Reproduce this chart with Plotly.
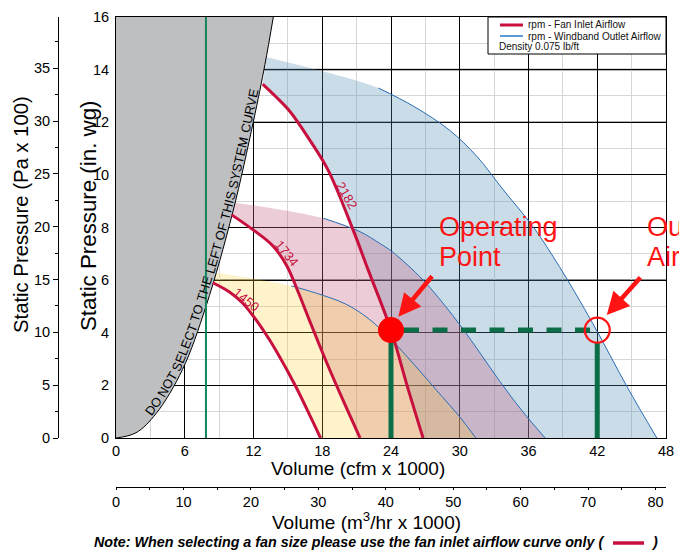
import numpy as np
import plotly.graph_objects as go

# ---------------- fan data: volume in cfm x 1000, static pressure in in. wg ----------------
system_x = [0, 1.75, 3.5, 5.8, 7.85, 10.2, 12.0, 13.0, 13.73]
system_y = [0, 0.2, 0.93, 2.6, 5.0, 8.6, 12.05, 14.2, 16.0]

fan_rpm = [1450, 1734, 2182]

inlet_1450_x = [8.45, 9.9, 11.0, 11.9, 13.0, 14.0, 15.7, 17.2, 17.85]
inlet_1450_y = [5.9, 5.55, 5.15, 4.68, 4.0, 3.3, 1.95, 0.6, 0.0]
inlet_1734_x = [10.1, 12.0, 13.7, 14.9, 15.9, 16.9, 18.4, 19.9, 21.3]
inlet_1734_y = [8.48, 7.9, 7.3, 6.55, 5.55, 4.45, 2.85, 1.35, 0.0]
inlet_2182_x = [12.8, 14.0, 15.2, 16.9, 18.5, 20.7, 22.0, 24.0, 25.4, 26.8]
inlet_2182_y = [13.45, 12.95, 12.4, 11.33, 10.19, 7.9, 6.4, 4.1, 2.0, 0.0]

outlet_1450_x = [15.3, 17.5, 20.0, 22.0, 24.0, 26.0, 28.0, 30.0, 31.4]
outlet_1450_y = [5.78, 5.5, 5.1, 4.55, 3.75, 2.8, 1.8, 0.8, 0.0]
outlet_1734_x = [18.1, 21.3, 23.0, 24.1, 26.8, 29.4, 31.5, 33.5, 35.5, 37.45]
outlet_1734_y = [8.35, 7.84, 7.4, 7.08, 6.0, 4.65, 3.4, 2.15, 1.0, 0.0]
outlet_2182_x = [22.9, 26.0, 29.1, 31.5, 33.8, 36.4, 38.7, 41.6, 44.6, 47.2]
outlet_2182_y = [13.3, 12.6, 11.7, 10.7, 9.43, 8.03, 6.51, 4.36, 1.95, 0.0]

# upper-left corner of each selection band, next to the system curve
band_corner_x = [8.62, 10.25, 13.15]
band_corner_y = [6.3, 8.95, 14.47]

# rpm label anchor beside each inlet curve (x, y, text angle)
rpm_label_x = [11.35, 14.9, 20.13]
rpm_label_y = [5.27, 7.0, 9.21]
rpm_label_angle = [39, 51, 60]

min_select_cfm = 7.85          # green limit line
op_cfm, op_sp = 24.0, 4.1      # operating point (fan inlet)
outlet_cfm = 42.0              # outlet airflow at the same pressure

x_ticks = [0, 6, 12, 18, 24, 30, 36, 42, 48]
y_ticks = [0, 2, 4, 6, 8, 10, 12, 14, 16]
dark_grid_y = [6, 12, 14]

IN_WG_TO_PA = 249.089
CFM_TO_M3H = 1.69901

inlet = {1450: (inlet_1450_x, inlet_1450_y), 1734: (inlet_1734_x, inlet_1734_y),
         2182: (inlet_2182_x, inlet_2182_y)}
outlet = {1450: (outlet_1450_x, outlet_1450_y), 1734: (outlet_1734_x, outlet_1734_y),
          2182: (outlet_2182_x, outlet_2182_y)}

# ---------------- page geometry ----------------
W, H = 679, 550
ML, MR, MT, MB = 50, 13, 17, 30
PW, PH = W - ML - MR, H - MT - MB
PLOT_L, PLOT_R, PLOT_T, PLOT_B = 116, 666, 17, 438
SX = (PLOT_R - PLOT_L) / 48.0
SY = (PLOT_B - PLOT_T) / 16.0


def fx(p):
    return (p - ML) / PW


def fy(p):
    return (H - MB - p) / PH


FONT = "Liberation Sans, Arial, Helvetica, sans-serif"
INLET_RED = "#c8103e"
OUTLET_BLUE = "#2a6db5"
GREEN = "#0b6e47"
MARK_RED = "#ff1414"
BAND_FILL = {2182: "rgba(80,140,180,0.30)",
             1734: "rgba(196,99,130,0.32)",
             1450: "rgba(255,205,42,0.24)"}

fig = go.Figure()

# selection bands: area between inlet and outlet curves
for rpm, cx, cy in sorted(zip(fan_rpm, band_corner_x, band_corner_y), reverse=True):
    ix, iy = inlet[rpm]
    ox, oy = outlet[rpm]
    fig.add_trace(go.Scatter(x=ix, y=iy, mode="lines", line=dict(width=0, shape="spline"),
                             hoverinfo="skip", showlegend=False))
    fig.add_trace(go.Scatter(x=[cx] + ox, y=[cy] + oy, mode="lines",
                             line=dict(width=0, shape="spline"), fill="tonexty",
                             fillcolor=BAND_FILL[rpm], hoverinfo="skip", showlegend=False))

# system curve with the excluded region
fig.add_trace(go.Scatter(x=system_x, y=system_y, mode="lines",
                         line=dict(color="black", width=1, shape="spline"),
                         fill="tozerox", fillcolor="#bebfc1", hoverinfo="skip", showlegend=False))

fig.add_trace(go.Scatter(x=[min_select_cfm, min_select_cfm], y=[0, 16], mode="lines",
                         line=dict(color="#12855a", width=2), hoverinfo="skip", showlegend=False))

for rpm in fan_rpm:
    ox, oy = outlet[rpm]
    fig.add_trace(go.Scatter(x=ox, y=oy, mode="lines",
                             line=dict(color=OUTLET_BLUE, width=1, shape="spline"),
                             hoverinfo="skip", showlegend=False))
for rpm in fan_rpm:
    ix, iy = inlet[rpm]
    fig.add_trace(go.Scatter(x=ix, y=iy, mode="lines",
                             line=dict(color=INLET_RED, width=3, shape="spline"),
                             hoverinfo="skip", showlegend=False))

# operating point construction
CIRCLE_R = 12.5
fig.add_trace(go.Scatter(x=[op_cfm, op_cfm], y=[0, op_sp], mode="lines",
                         line=dict(color=GREEN, width=5), hoverinfo="skip", showlegend=False))
fig.add_trace(go.Scatter(x=[outlet_cfm, outlet_cfm], y=[0, op_sp - CIRCLE_R / SY], mode="lines",
                         line=dict(color=GREEN, width=5), hoverinfo="skip", showlegend=False))
fig.add_trace(go.Scatter(x=[op_cfm, outlet_cfm], y=[op_sp, op_sp], mode="lines",
                         line=dict(color=GREEN, width=5,
                                   dash="28px,13.5px" + ",15px,13.5px" * 7),
                         hoverinfo="skip", showlegend=False))
fig.add_trace(go.Scatter(x=[op_cfm], y=[op_sp], mode="markers",
                         marker=dict(size=26, color="#ff0000", line=dict(width=0)),
                         hoverinfo="skip", showlegend=False))
fig.add_trace(go.Scatter(x=[outlet_cfm], y=[op_sp], mode="markers",
                         marker=dict(size=25, symbol="circle-open", color=MARK_RED,
                                     line=dict(width=2.2, color=MARK_RED)),
                         hoverinfo="skip", showlegend=False))

# anchors for the secondary (SI) axes
fig.add_trace(go.Scatter(x=[0], y=[0], xaxis="x2", yaxis="y", mode="markers",
                         marker=dict(size=1, opacity=0), hoverinfo="skip", showlegend=False))
fig.add_trace(go.Scatter(x=[0], y=[0], xaxis="x", yaxis="y2", mode="markers",
                         marker=dict(size=1, opacity=0), hoverinfo="skip", showlegend=False))

annotations = []
shapes = []

# heavier grid rules
for gy in dark_grid_y:
    shapes.append(dict(type="line", xref="x", yref="y", x0=0, x1=48, y0=gy, y1=gy,
                       line=dict(color="#666666", width=1.6), layer="below"))

# rpm labels along the inlet curves
for rpm, lx, ly, ang in zip(fan_rpm, rpm_label_x, rpm_label_y, rpm_label_angle):
    annotations.append(dict(x=lx, y=ly, xref="x", yref="y", text=str(rpm), showarrow=False,
                            textangle=ang, xanchor="center", yanchor="middle",
                            font=dict(family=FONT, size=13, color=INLET_RED)))

# warning text set along the system curve, word by word
WARN = "DO NOT SELECT TO THE LEFT OF THIS SYSTEM CURVE"
CHAR_W = {"D": .722, "O": .778, "N": .722, "T": .611, "S": .667, "E": .667, "L": .556,
          "C": .722, "H": .722, "F": .611, "I": .278, "Y": .667, "M": .833, "U": .722,
          "R": .722, "V": .667}
WARN_SIZE = 12.8


def catmull(P, n=40):
    out = []
    for i in range(len(P) - 1):
        p0 = P[i - 1] if i > 0 else P[i]
        p1, p2 = P[i], P[i + 1]
        p3 = P[i + 2] if i + 2 < len(P) else P[i + 1]
        for t in np.linspace(0, 1, n, endpoint=False):
            out.append(0.5 * (2 * p1 + (-p0 + p2) * t + (2 * p0 - 5 * p1 + 4 * p2 - p3) * t * t
                              + (-p0 + 3 * p1 - 3 * p2 + p3) * t ** 3))
    out.append(P[-1])
    return np.array(out)


curve_px = np.array([[PLOT_L + x * SX, PLOT_B - y * SY] for x, y in zip(system_x, system_y)])
dense = catmull(curve_px)
arc = np.concatenate([[0], np.cumsum(np.hypot(*np.diff(dense, axis=0).T))])
s = np.interp(PLOT_L + 3.2 * SX, dense[:, 0], arc)
offset = 2.0 + 0.35 * WARN_SIZE
for word in WARN.split():
    wlen = sum(CHAR_W[c] for c in word) * WARN_SIZE
    mid = s + wlen / 2
    px = np.interp(mid, arc, dense[:, 0])
    py = np.interp(mid, arc, dense[:, 1])
    dx = np.interp(mid + 2, arc, dense[:, 0]) - np.interp(mid - 2, arc, dense[:, 0])
    dy = np.interp(mid + 2, arc, dense[:, 1]) - np.interp(mid - 2, arc, dense[:, 1])
    norm = np.hypot(dx, dy)
    dx, dy = dx / norm, dy / norm
    cx, cy = px + dy * offset, py - dx * offset
    annotations.append(dict(x=(cx - PLOT_L) / SX, y=(PLOT_B - cy) / SY, xref="x", yref="y",
                            text=word, showarrow=False, xanchor="center", yanchor="middle",
                            textangle=float(np.degrees(np.arctan2(dy, dx))),
                            font=dict(family=FONT, size=WARN_SIZE, color="black")))
    s += wlen + 0.278 * WARN_SIZE

# call-outs
for txt, left, yc in [("Operating", 437, 226.5), ("Point", 437, 256.5),
                      ("Outlet", 645, 226.5), ("Airflow", 645, 256.5)]:
    annotations.append(dict(x=fx(left), y=fy(yc), xref="paper", yref="paper", text=txt,
                            showarrow=False, xanchor="left", yanchor="middle",
                            font=dict(family=FONT, size=27, color=MARK_RED)))
for hx, hy, ax, ay in [(24.64, 4.61, 35, -42), (42.83, 4.67, 35, -39)]:
    annotations.append(dict(x=hx, y=hy, xref="x", yref="y", ax=ax, ay=ay, text="",
                            showarrow=True, arrowhead=2, arrowsize=1.0, arrowwidth=4.5,
                            arrowcolor=MARK_RED, standoff=0))

# legend box
shapes.append(dict(type="rect", xref="paper", yref="paper", x0=fx(488), x1=fx(666),
                   y0=fy(54), y1=fy(17), line=dict(color="black", width=1),
                   fillcolor="white", layer="above"))
shapes.append(dict(type="line", xref="paper", yref="paper", x0=fx(500), x1=fx(523),
                   y0=fy(25), y1=fy(25), line=dict(color=INLET_RED, width=3), layer="above"))
shapes.append(dict(type="line", xref="paper", yref="paper", x0=fx(500), x1=fx(523),
                   y0=fy(36), y1=fy(36), line=dict(color="#5b9bd5", width=2), layer="above"))
for txt, left, yc in [("rpm - Fan Inlet Airflow", 526, 25),
                      ("rpm - Windband Outlet Airflow", 526, 36),
                      ("Density 0.075 lb/ft", 496.5, 47)]:
    annotations.append(dict(x=fx(left), y=fy(yc), xref="paper", yref="paper", text=txt,
                            showarrow=False, xanchor="left", yanchor="middle",
                            font=dict(family=FONT, size=10, color="#111111")))

# axis titles
annotations += [
    dict(x=fx(88), y=fy(216), text="Static Pressure (in. wg)", textangle=-90,
         font=dict(family=FONT, size=22.3, color="black")),
    dict(x=fx(21), y=fy(215), text="Static Pressure (Pa x 100)", textangle=-90,
         font=dict(family=FONT, size=20.3, color="black")),
    dict(x=fx(358), y=fy(468), text="Volume (cfm x 1000)",
         font=dict(family=FONT, size=19, color="black")),
    dict(x=fx(366), y=fy(521), text="Volume (m<sup>3</sup>/hr x 1000)",
         font=dict(family=FONT, size=19, color="black")),
]
for a in annotations[-4:]:
    a.update(xref="paper", yref="paper", showarrow=False, xanchor="center", yanchor="middle")

# footnote with inline inlet-curve swatch
NOTE_FONT = dict(family=FONT, size=14.3, color="black")
annotations.append(dict(x=fx(607), y=fy(542), xref="paper", yref="paper", xanchor="right",
                        yanchor="middle",
                        text="<b><i>Note: When selecting a fan size please use the fan inlet airflow curve only (</i></b>",
                        showarrow=False, font=NOTE_FONT))
annotations.append(dict(x=fx(649), y=fy(542), xref="paper", yref="paper", xanchor="left",
                        yanchor="middle", text="<b><i>)</i></b>", showarrow=False, font=NOTE_FONT))
shapes.append(dict(type="line", xref="paper", yref="paper", x0=fx(613), x1=fx(644),
                   y0=fy(543), y1=fy(543), line=dict(color=INLET_RED, width=3.5)))

TICKF = dict(family=FONT, size=14.5, color="black")
fig.update_layout(
    width=W, height=H, margin=dict(l=ML, r=MR, t=MT, b=MB, autoexpand=False),
    paper_bgcolor="white", plot_bgcolor="white", hovermode=False, showlegend=False,
    xaxis=dict(domain=[fx(PLOT_L), 1], range=[0, 48], tickvals=x_ticks, showgrid=True,
               gridcolor="black", gridwidth=1, zeroline=False, showline=True, linecolor="black",
               linewidth=1, mirror=True, ticks="", tickfont=TICKF, fixedrange=True,
               minor=dict(dtick=3, tick0=0, showgrid=True, gridcolor="#d6d6d6", gridwidth=1.3)),
    yaxis=dict(domain=[fy(PLOT_B), 1], range=[0, 16], tickvals=y_ticks, showgrid=True,
               gridcolor="black", gridwidth=1, zeroline=False, showline=True, linecolor="black",
               linewidth=1, mirror=True, ticks="outside", ticklen=3, tickcolor="rgba(0,0,0,0)",
               tickfont=TICKF, fixedrange=True,
               minor=dict(dtick=1, tick0=0, showgrid=True, gridcolor="#d6d6d6", gridwidth=1.3)),
    xaxis2=dict(overlaying="x", anchor="free", position=fy(487), side="bottom",
                range=[0, 48 * CFM_TO_M3H], dtick=10, tick0=0, showgrid=False, zeroline=False,
                showline=True, linecolor="black", linewidth=1, ticks="outside", ticklen=2,
                tickcolor="black", tickfont=TICKF, fixedrange=True,
                minor=dict(dtick=5, ticks="outside", ticklen=2, tickcolor="black")),
    yaxis2=dict(overlaying="y", anchor="free", position=fx(58), side="left",
                range=[0, 16 * IN_WG_TO_PA / 100], dtick=5, tick0=0, showgrid=False,
                zeroline=False, showline=True, linecolor="black", linewidth=1, ticks="outside",
                ticklen=5, tickcolor="black", tickfont=TICKF, fixedrange=True,
                minor=dict(dtick=2.5, ticks="outside", ticklen=3, tickcolor="black")),
    annotations=annotations, shapes=shapes,
)

fig.write_html("out.html")
